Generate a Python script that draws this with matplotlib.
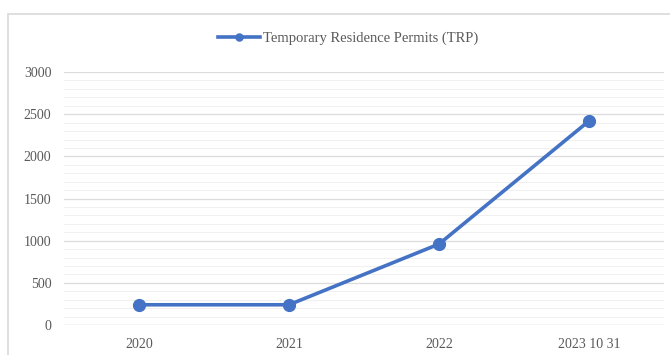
import matplotlib.pyplot as plt
from matplotlib.patches import Rectangle
from matplotlib.ticker import MultipleLocator

years = ["2020", "2021", "2022", "2023 10 31"]
trp = [240, 240, 960, 2420]

plt.rcParams['font.family'] = ['Liberation Serif', 'DejaVu Serif']

fig = plt.figure(figsize=(6.7, 3.55), dpi=100)
ax = fig.add_axes([0.0955, 0.0845, 0.8955, 0.7125])

x = range(len(years))
ax.plot(x, trp, color='#4472C4', linewidth=2.6, marker='o', markersize=8.5,
        label='Temporary Residence Permits (TRP)', zorder=3)

ax.set_xlim(-0.5, len(years) - 0.5)
ax.set_ylim(0, 3000)
ax.set_xticks(list(x))
ax.set_xticklabels(years)
ax.yaxis.set_major_locator(MultipleLocator(500))
ax.yaxis.set_minor_locator(MultipleLocator(100))
ax.grid(axis='y', which='major', color='#dcdcdc', linewidth=0.9)
ax.grid(axis='y', which='minor', color='#f0f0f0', linewidth=0.7)
ax.set_axisbelow(True)
for s in ax.spines.values():
    s.set_visible(False)
ax.axhline(0, color='#dcdcdc', linewidth=0.9, zorder=1)
ax.tick_params(axis='both', which='both', length=0, labelsize=10, labelcolor='#595959')
ax.tick_params(axis='y', pad=9)
ax.tick_params(axis='x', pad=9)

fig.legend(loc='upper center', bbox_to_anchor=(0.52, 0.947), frameon=False,
           fontsize=10.5, handlelength=2.9, labelcolor='#595959', handletextpad=0.2,
           markerscale=0.6)

# outer chart frame
fig.patches.append(Rectangle((0.012, -0.05), 1.2, 1.01, transform=fig.transFigure,
                             fill=False, edgecolor='#d9d9d9', linewidth=1.2))

fig.savefig('out.png', dpi=100)
